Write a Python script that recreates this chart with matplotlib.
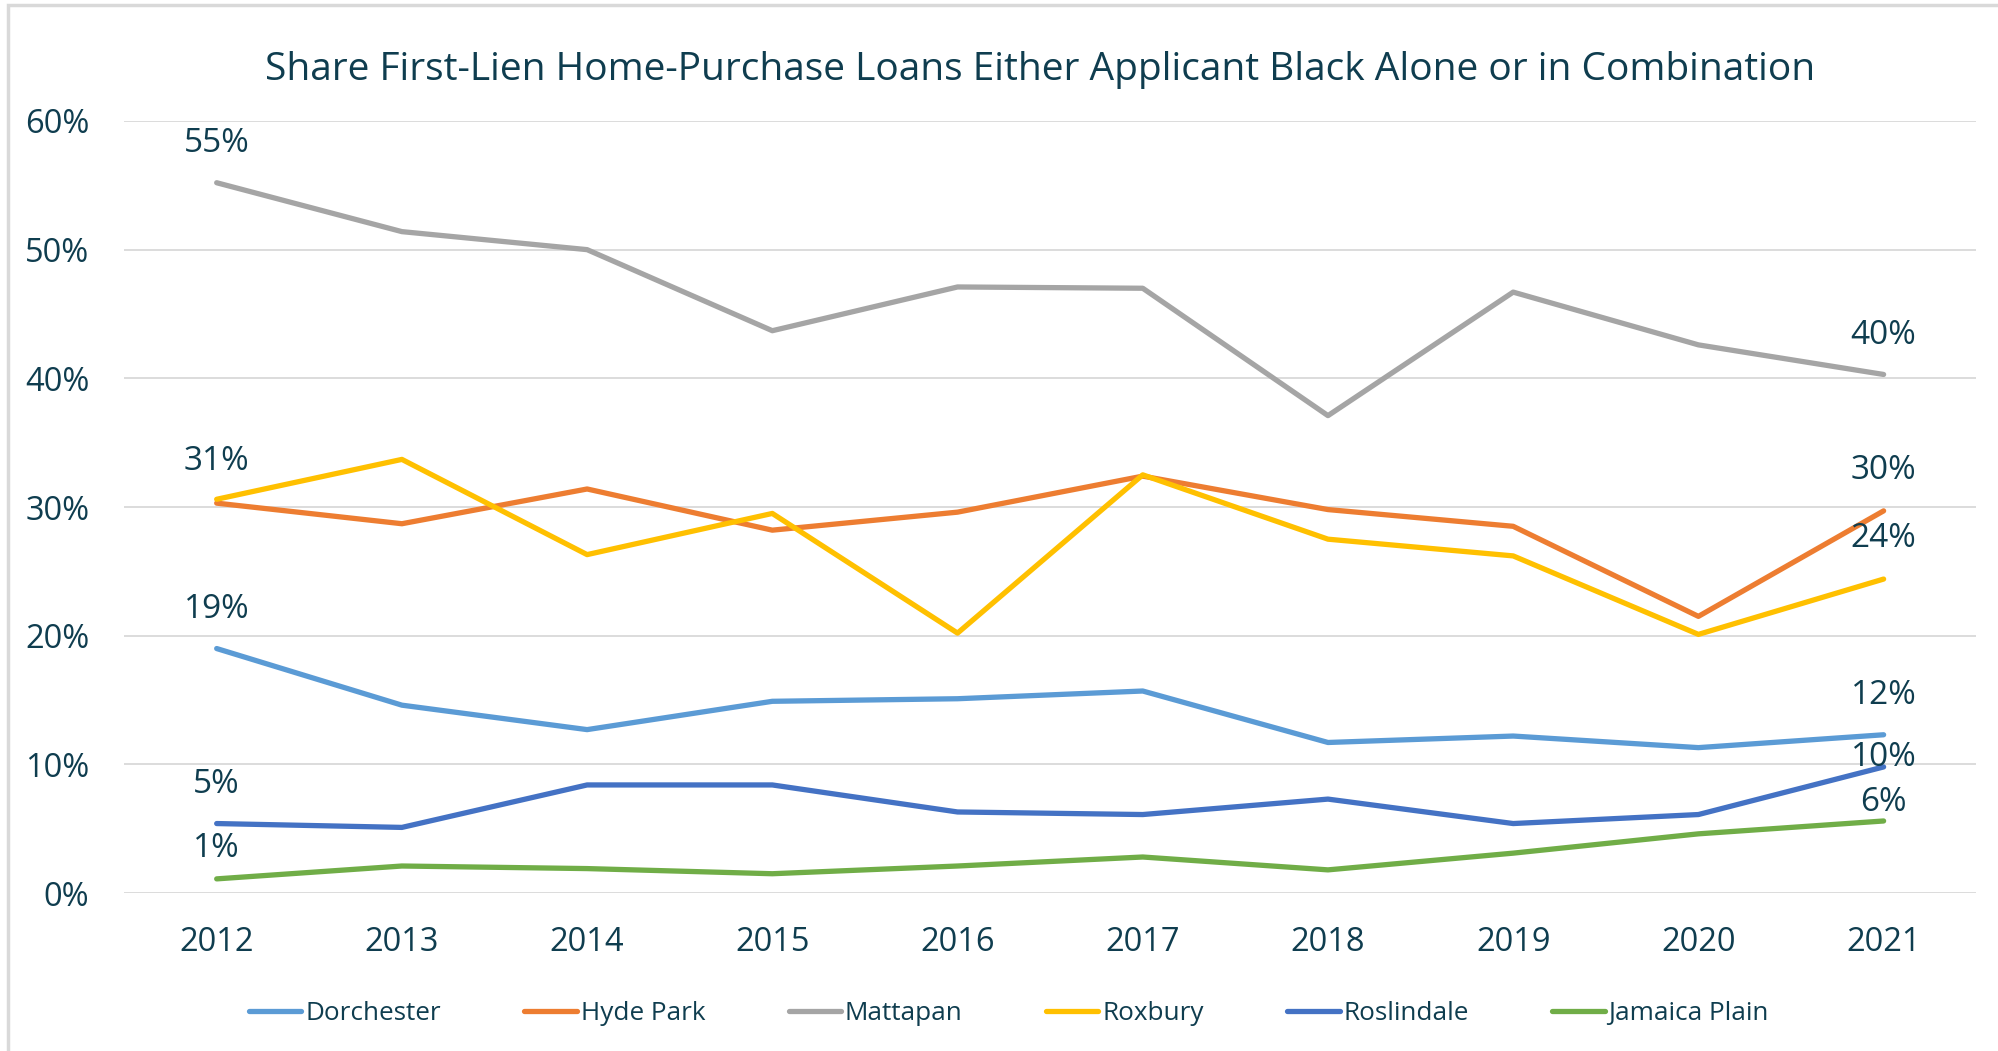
import matplotlib
matplotlib.use("Agg")
import matplotlib.pyplot as plt
from matplotlib.patches import Rectangle

years = ["2012", "2013", "2014", "2015", "2016", "2017", "2018", "2019", "2020", "2021"]
series_names = ["Dorchester", "Hyde Park", "Mattapan", "Roxbury", "Roslindale", "Jamaica Plain"]
dorchester = [19.0, 14.6, 12.7, 14.9, 15.1, 15.7, 11.7, 12.2, 11.3, 12.3]
hyde_park = [30.3, 28.7, 31.4, 28.2, 29.6, 32.4, 29.8, 28.5, 21.5, 29.7]
mattapan = [55.2, 51.4, 50.0, 43.7, 47.1, 47.0, 37.1, 46.7, 42.6, 40.3]
roxbury = [30.6, 33.7, 26.3, 29.5, 20.2, 32.5, 27.5, 26.2, 20.1, 24.4]
roslindale = [5.4, 5.1, 8.4, 8.4, 6.3, 6.1, 7.3, 5.4, 6.1, 9.8]
jamaica_plain = [1.1, 2.1, 1.9, 1.5, 2.1, 2.8, 1.8, 3.1, 4.6, 5.6]
y_ticks = [0, 10, 20, 30, 40, 50, 60]
title = "Share First-Lien Home-Purchase Loans Either Applicant Black Alone or in Combination"

colors = ["#5B9BD5", "#ED7D31", "#A5A5A5", "#FFC000", "#4472C4", "#70AD47"]
text_color = "#0F3D4F"
font = "Open Sans"

data = [dorchester, hyde_park, mattapan, roxbury, roslindale, jamaica_plain]

plt.rcParams["font.family"] = [font, "DejaVu Sans"]

fig = plt.figure(figsize=(19.98, 10.51), dpi=100)
fig.patches.append(Rectangle((0.004, -0.01), 1.0, 1.005, transform=fig.transFigure,
                             fill=False, edgecolor="#D9D9D9", linewidth=2.5))
ax = fig.add_axes([0.0621, 0.1503, 0.9270, 0.7346])

x = list(range(len(years)))
for name, vals, c in zip(series_names, data, colors):
    ax.plot(x, [v / 100 for v in vals], color=c, linewidth=3.8, label=name,
            solid_capstyle="round", solid_joinstyle="round", zorder=3)

# data labels: (series index, point index, vertical offset in points)
labels = [(2, 0, 28), (3, 0, 27), (0, 0, 28), (4, 0, 28), (5, 0, 22),
          (2, 9, 28), (1, 9, 29), (3, 9, 29), (0, 9, 28), (4, 9, 7), (5, 9, 13)]
for si, pi, off in labels:
    v = data[si][pi]
    ax.annotate(f"{v:.0f}%", (x[pi], v / 100), xytext=(0, off), textcoords="offset points",
                ha="center", va="center", fontsize=24, color=text_color, zorder=4)

ax.set_xlim(-0.5, len(years) - 0.5)
ax.set_ylim(0, 0.6)
ax.set_yticks([t / 100 for t in y_ticks])
ax.set_yticklabels([f"{t}%" for t in y_ticks])
ax.set_xticks(x)
ax.set_xticklabels(years)
ax.tick_params(axis="both", length=0, labelsize=23.5, labelcolor=text_color)
ax.tick_params(axis="y", pad=25)
ax.tick_params(axis="x", pad=24)
ax.grid(axis="y", color="#D9D9D9", linewidth=1.3, zorder=0)
for s in ax.spines.values():
    s.set_visible(False)

fig.text(0.5205, 0.933, title, ha="center", va="center", fontsize=28, color=text_color)

leg = ax.legend(loc="center", bbox_to_anchor=(0.505, 0.036), bbox_transform=fig.transFigure,
                ncol=6, frameon=False, fontsize=18.8, handlelength=2.0, handletextpad=0.15,
                columnspacing=3.2)
for t in leg.get_texts():
    t.set_color(text_color)

fig.savefig("out.png", dpi=100)
